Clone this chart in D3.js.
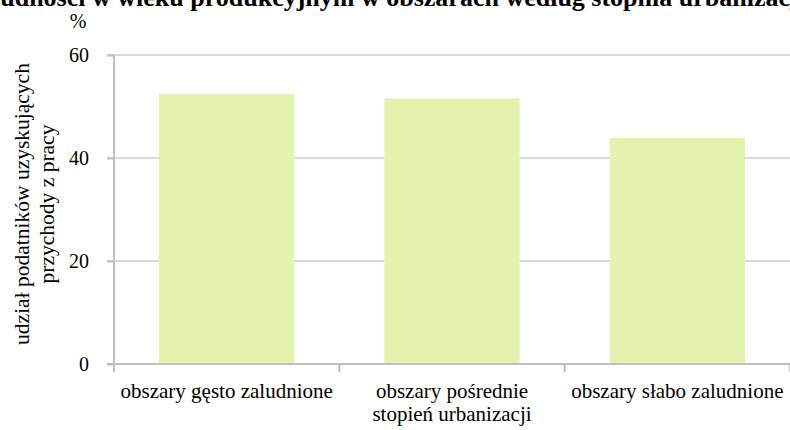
<!DOCTYPE html>
<html>
<head>
<meta charset="utf-8">
<script src="https://cdn.jsdelivr.net/npm/d3@7"></script>
<style>
  body { margin: 0; background: #fff; }
  svg { display: block; font-family: "Liberation Serif", "Times New Roman", serif; }
  svg text { font-family: "Liberation Serif", "Times New Roman", serif; }
</style>
</head>
<body>
<svg id="chart" width="790" height="430"></svg>
<script>
// data
var categories = ["obszary gęsto zaludnione", "obszary pośrednie", "obszary słabo zaludnione"];
var values = [52.4, 51.6, 43.9];
var yTicks = [0, 20, 40, 60];
var titleText = "ludności w wieku produkcyjnym w obszarach według stopnia urbanizacji";
var yTitle = ["udział podatników uzyskujących", "przychody z pracy"];
var xTitle = "stopień urbanizacji";

var svg = d3.select("#chart");
var plotLeft = 114, plotRight = 790, plotTop = 55, plotBottom = 364;

var x = d3.scaleBand()
	.domain(categories)
	.range([plotLeft, plotRight])
	.paddingInner(0.4)
	.paddingOuter(0.2);

var y = d3.scaleLinear()
	.domain([0, 60])
	.range([plotBottom, plotTop]);

// gridlines
svg.append("g")
	.selectAll("line")
	.data(yTicks.filter(function (d) { return d > 0; }))
	.enter().append("line")
	.attr("x1", plotLeft - 7)
	.attr("x2", plotRight)
	.attr("y1", function (d) { return y(d); })
	.attr("y2", function (d) { return y(d); })
	.style("stroke", "#d9d9d9")
	.style("stroke-width", 2);

// bars
svg.append("g")
	.selectAll("rect")
	.data(values)
	.enter().append("rect")
	.attr("x", function (d, i) { return x(categories[i]); })
	.attr("y", function (d) { return y(d); })
	.attr("width", x.bandwidth())
	.attr("height", function (d) { return plotBottom - y(d); })
	.style("fill", "#e3f3ae");

// y axis
var yAxis = svg.append("g")
	.attr("transform", "translate(" + plotLeft + ",0)")
	.call(d3.axisLeft(y).tickValues(yTicks).tickSize(7).tickPadding(18));
yAxis.attr("font-family", null).attr("font-size", null);
yAxis.select(".domain").style("stroke", "#bfbfbf").style("stroke-width", 2)
	.attr("d", "M0," + plotTop + "V" + plotBottom);
yAxis.selectAll(".tick line").style("stroke", "#bfbfbf").style("stroke-width", 2);
yAxis.selectAll(".tick text")
	.style("font-size", "20px")
	.style("fill", "#000");

// x axis
var xAxis = svg.append("g")
	.attr("transform", "translate(0," + plotBottom + ")")
	.call(d3.axisBottom(x).tickSize(0).tickPadding(0));
xAxis.attr("font-family", null).attr("font-size", null);
xAxis.select(".domain").style("stroke", "#bfbfbf").style("stroke-width", 2)
	.attr("d", "M" + (plotLeft - 7) + ",0H" + plotRight);
xAxis.selectAll(".tick text")
	.attr("y", 34)
	.attr("dy", null)
	.style("font-size", "21px")
	.style("fill", "#000");

// category separators
var sep = [plotLeft].concat(categories.map(function (c) {
	return x(c) + x.bandwidth() + x.step() * x.paddingInner() / 2;
}));
svg.append("g")
	.selectAll("line")
	.data(sep)
	.enter().append("line")
	.attr("x1", function (d) { return d; })
	.attr("x2", function (d) { return d; })
	.attr("y1", plotBottom)
	.attr("y2", plotBottom + 8)
	.style("stroke", "#bfbfbf")
	.style("stroke-width", 2);

// titles
svg.append("text")
	.attr("x", -7)
	.attr("y", 6)
	.style("font-weight", "bold")
	.style("font-size", "26px")
	.text(titleText);

svg.append("text")
	.attr("x", 78)
	.attr("y", 28)
	.attr("text-anchor", "middle")
	.style("font-size", "20px")
	.text("%");

svg.append("text")
	.attr("x", x(categories[1]) + x.bandwidth() / 2)
	.attr("y", 421)
	.attr("text-anchor", "middle")
	.style("font-size", "21px")
	.text(xTitle);

var yt = svg.append("text")
	.attr("transform", "translate(29,204) rotate(-90)")
	.attr("text-anchor", "middle")
	.style("font-size", "21.5px");
yTitle.forEach(function (line, i) {
	yt.append("tspan")
		.attr("x", 0)
		.attr("dy", i === 0 ? 0 : 25)
		.text(line);
});
</script>
</body>
</html>
